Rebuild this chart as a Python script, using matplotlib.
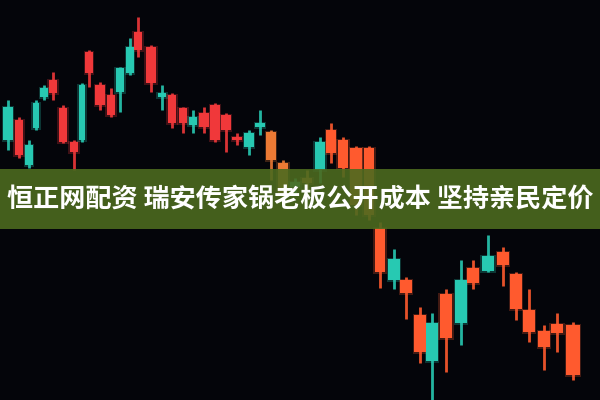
import matplotlib
matplotlib.use("Agg")
import matplotlib.pyplot as plt
from matplotlib.patches import Rectangle
import numpy as np

# Candle data (time position, open, high, low, close) - price units
t = [8, 19, 29, 36, 44, 53, 63, 74, 82, 89, 100, 111, 120, 130, 138, 151, 162, 172, 183, 193,
     204, 215, 226, 237, 249, 260, 271, 283, 295, 307, 320, 331, 343, 356, 369, 380, 394, 406,
     420, 432, 446, 461, 473, 488, 503, 516, 529, 544, 557, 573]
body_top = [107, 120, 145, 103, 88, 80, 108, 142, 85, 52, 85, 95, 68, 47, 32, 47, 93, 95, 108, 117,
            113, 105, 115, 137, 133, 123, 132, 163, 182, 178, 142, 130, 140, 148, 148, 228, 259, 280,
            315, 323, 294, 280, 268, 256, 252, 274, 310, 331, 324, 325]
body_bot = [140, 155, 165, 128, 97, 93, 142, 152, 140, 73, 105, 115, 92, 73, 50, 83, 97, 123, 123, 125,
            127, 140, 130, 140, 147, 127, 160, 195, 187, 183, 170, 153, 168, 205, 215, 272, 280, 293,
            352, 361, 338, 323, 283, 271, 265, 309, 332, 347, 333, 375]
wick_top = [100, 117, 140, 100, 85, 72, 105, 140, 83, 50, 82, 88, 67, 38, 17, 45, 85, 93, 107, 110,
            107, 103, 113, 133, 130, 110, 130, 160, 178, 170, 137, 123, 137, 146, 146, 222, 249, 277,
            307, 313, 289, 260, 260, 235, 247, 272, 289, 325, 313, 322]
wick_bot = [150, 158, 168, 130, 100, 100, 143, 170, 142, 87, 110, 117, 112, 75, 57, 92, 110, 128, 133, 133,
            133, 142, 152, 145, 155, 135, 180, 200, 195, 190, 183, 163, 177, 215, 220, 288, 289, 319,
            363, 400, 372, 345, 289, 272, 286, 320, 342, 370, 352, 380]
direction = ["U", "D", "U", "U", "U", "D", "D", "D", "U", "D", "D", "D", "U", "U", "D", "D", "U", "D", "D", "U",
             "D", "D", "D", "D", "U", "U", "D", "D", "U", "D", "U", "D", "D", "D", "D", "D", "U", "D",
             "D", "U", "D", "U", "D", "U", "D", "D", "D", "D", "D", "D"]

H = 400
top_p = H - np.array(body_top, float)
bot_p = H - np.array(body_bot, float)
high = H - np.array(wick_top, float)
low = H - np.array(wick_bot, float)
opens = np.where(np.array(direction) == "U", bot_p, top_p)
closes = np.where(np.array(direction) == "U", top_p, bot_p)

title = "恒正网配资 瑞安传家锅老板公开成本 坚持亲民定价"

fig = plt.figure(figsize=(6, 4), dpi=100)
fig.patch.set_facecolor("#04050a")
ax = fig.add_axes([0, 0, 1, 1])
ax.set_facecolor("#04050a")
ax.set_xlim(0, 600)
ax.set_ylim(0, 400)
ax.axis("off")

tt = np.array(t, float)
spacing = np.gradient(tt)
for i in range(len(tt)):
    w = 0.85 * spacing[i]
    up = closes[i] >= opens[i]
    if up:
        col = "#27c9b2"
    elif tt[i] < 265:
        col = "#f0383a"
    elif tt[i] < 315:
        col = "#ec7a34"
    else:
        col = "#ff5a2e"
    lo_b = min(opens[i], closes[i])
    hi_b = max(opens[i], closes[i])
    # glow
    ax.add_patch(Rectangle((tt[i] - w / 2 - 1.5, lo_b - 1.5), w + 3, hi_b - lo_b + 3,
                           facecolor=col, alpha=0.25, edgecolor="none", zorder=2))
    ax.plot([tt[i], tt[i]], [low[i], high[i]], color=col, lw=2.0, alpha=0.9, zorder=2,
            solid_capstyle="butt")
    ax.add_patch(Rectangle((tt[i] - w / 2, lo_b), w, max(hi_b - lo_b, 2.5),
                           facecolor=col, edgecolor="none", zorder=3))

# banner
ax.add_patch(Rectangle((0, H - 229), 600, 60, facecolor="#4c6a1f", alpha=0.9,
                       edgecolor="none", zorder=5))
ax.text(300, H - 200, title, ha="center", va="center", color="white", fontsize=18.8,
        fontweight="bold", family=["Noto Sans CJK SC", "DejaVu Sans"], zorder=6)

fig.savefig("out.png", dpi=100, facecolor=fig.get_facecolor())
